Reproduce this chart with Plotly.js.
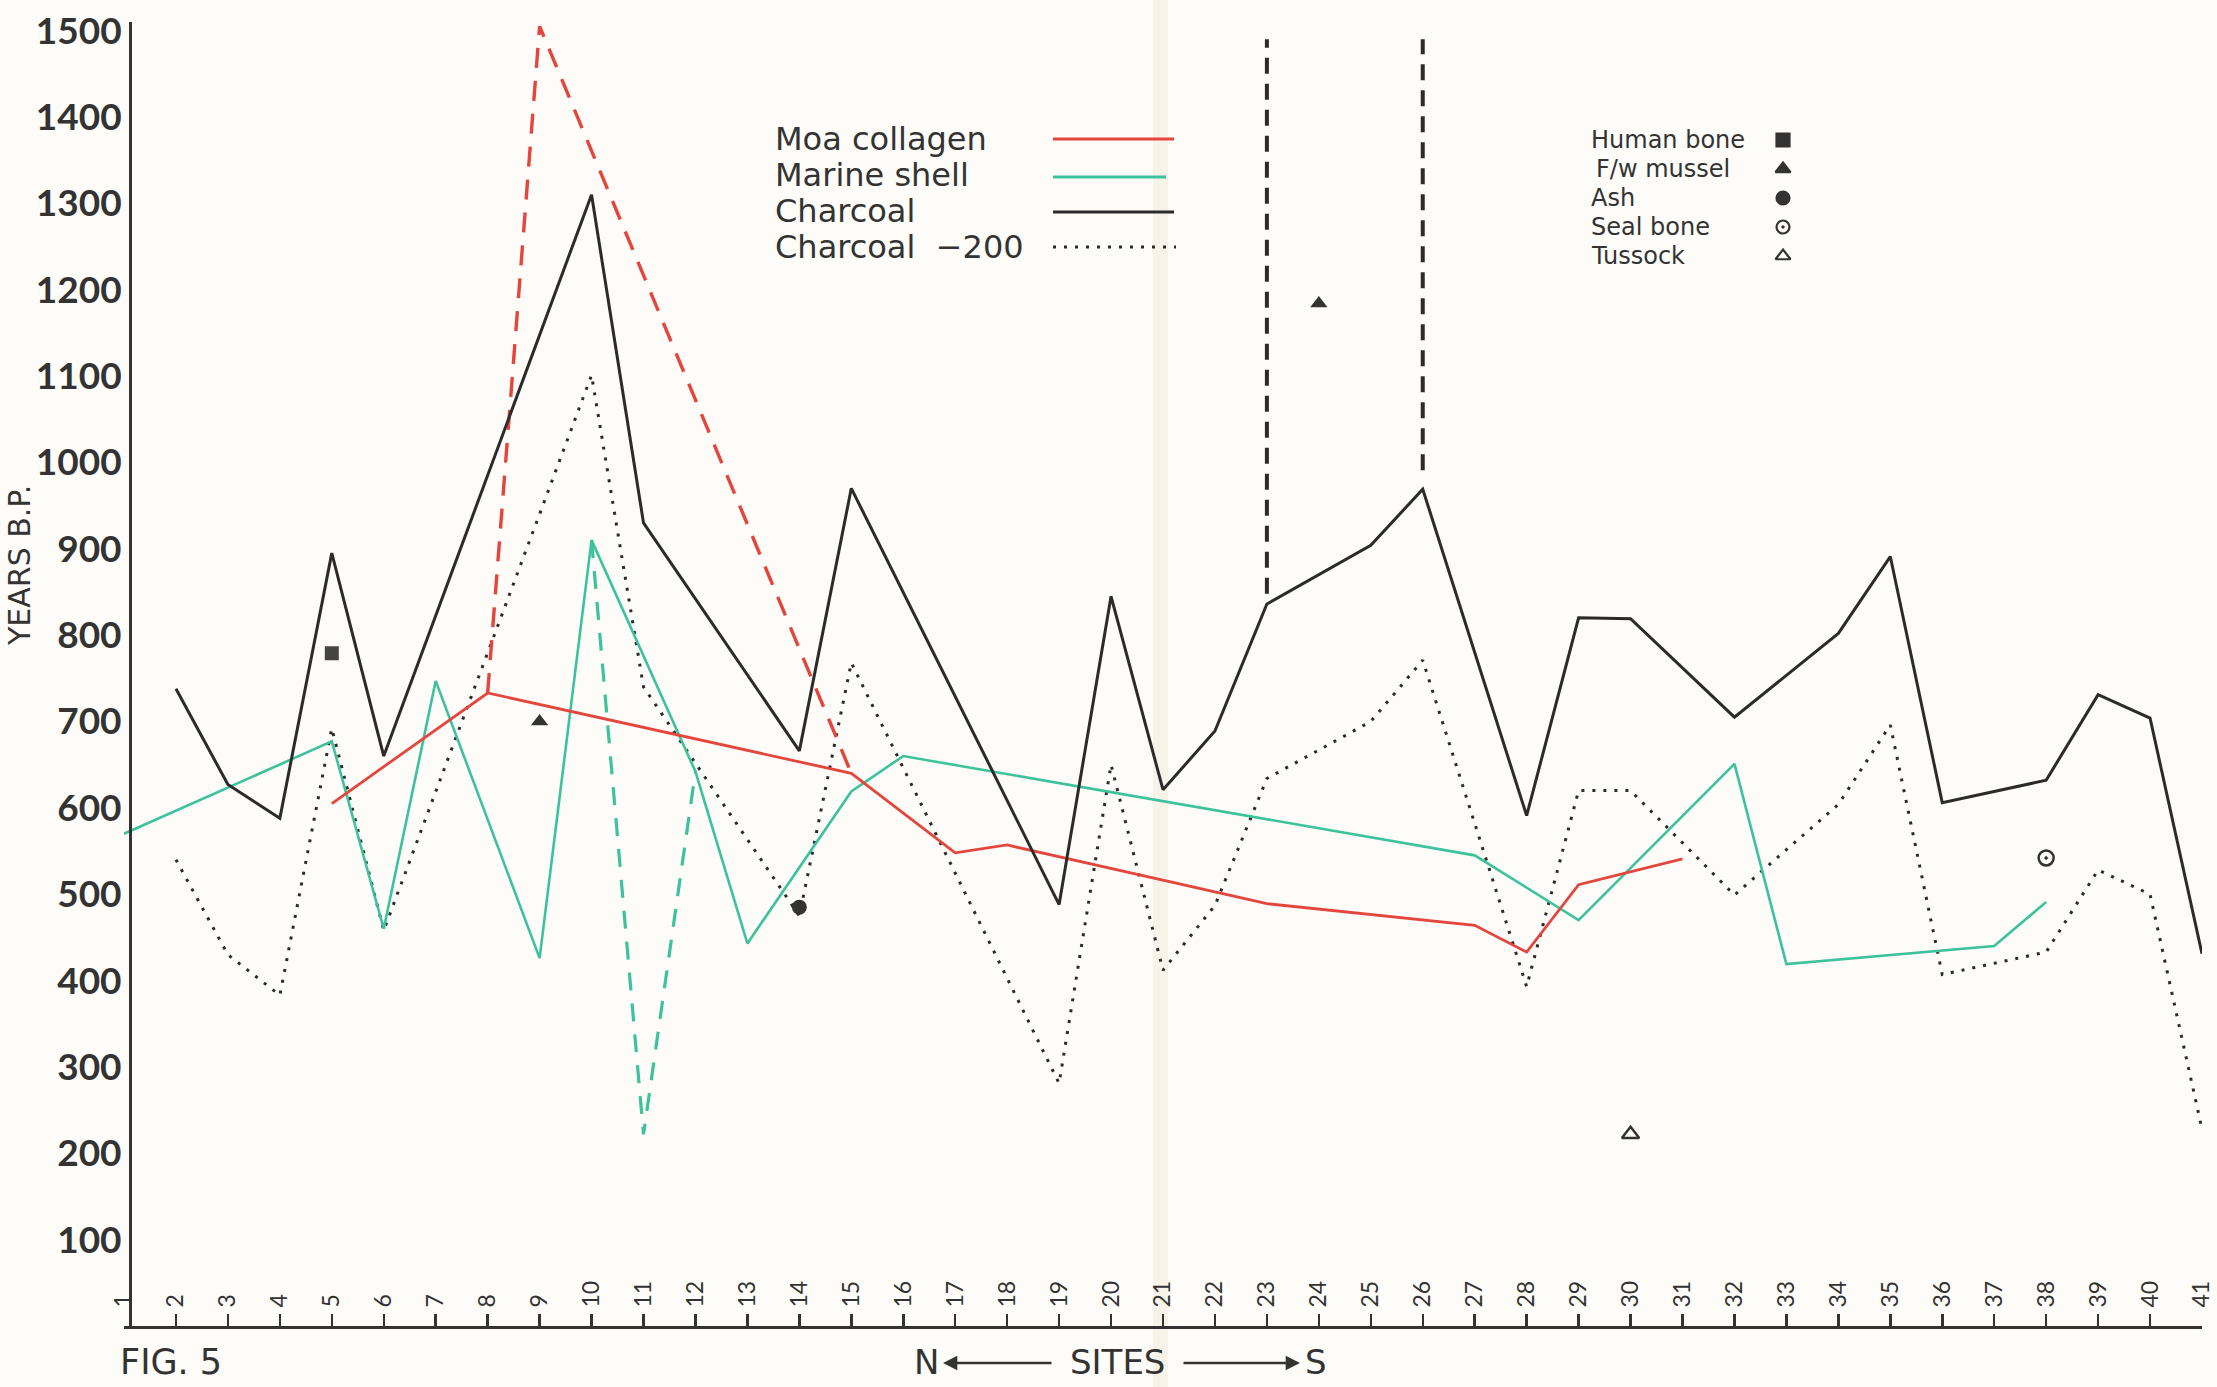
<!DOCTYPE html>
<html><head><meta charset="utf-8">
<script src="https://cdn.plot.ly/plotly-3.0.1.min.js"></script>
<style>html,body{margin:0;padding:0;background:#fdfcf8;} #chart{width:2217px;height:1387px;}</style>
</head><body><div id="chart"></div>
<script>
// ---------------- DATA (years B.P.) ----------------
const siteTicks = Array.from({length: 41}, (_, i) => i + 1);
const siteTickLabels = siteTicks.map(String);
const yTickVals = [100,200,300,400,500,600,700,800,900,1000,1100,1200,1300,1400,1500];

const charcoalSites = [2,3,4,5,6,10,11,14,15,19,20,21,22,23,25,26,28,29,30,32,34,35,36,38,39,40,41];
const charcoalBP    = [738,627,588,895,660,1310,930,666,970,488,845,621,689,836,904,969,591,820,819,705,802,891,606,632,731,704,431];
const charcoalMinus200BP = [540,430,383,692,458,1101,740,475,768,281,650,412,487,634,700,771,393,620,620,499,604,696,407,433,528,500,228];

const shellSites = [1,5,6,7,9,10,12,13,15,16,27,29,32,33,37,38];
const shellBP    = [570,677,460,747,426,910,642,443,619,660,545,470,651,419,440,491];
const shellAltSites = [10,11,12];
const shellAltBP    = [910,222,642];

const moaSites = [5,8,15,17,18,23,27,28,29,31];
const moaBP    = [605,733,640,548,557,489,464,433,511,541];
const moaAltSites = [8,9,15];
const moaAltBP    = [733,1505,640];

const rangeSites = [23,26];
const rangeLowBP  = [848,991];
const rangeHighBP = [1490,1490];

const humanBoneSites = [5];   const humanBoneBP = [779];
const musselSites = [9,24];   const musselBP = [700,1184];
const ashSites = [14];        const ashBP = [485];
const sealSites = [38];       const sealBP = [542];
const tussockSites = [30];    const tussockBP = [222];

const lineLegendNames = ["Moa collagen","Marine shell","Charcoal","Charcoal\u00A0\u00A0\u2212200"];
const markerLegendNames = ["Human bone","F/w mussel","Ash","Seal bone","Tussock"];

// ---------------- STYLE / GEOMETRY ----------------
const W = 2217, H = 1387, L = 124, R = 15, T = 22, B = 61;
const pw = W - L - R, ph = H - T - B;
const px = p => (p - L) / pw;
const py = q => (H - B - q) / ph;
const RED = '#e4453d', TEAL = '#3dc29c', BLACK = '#2b2b2b', BG = '#fdfcf8', INK = '#333';
const FONT = '"DejaVu Sans", sans-serif';
const TICKFONT = 'Lato, "DejaVu Sans", sans-serif';

const rangeX = [], rangeY = [];
rangeSites.forEach((s, i) => { rangeX.push(s, s, null); rangeY.push(rangeLowBP[i], rangeHighBP[i], null); });

const traces = [
  {x: charcoalSites, y: charcoalMinus200BP, mode: 'lines', line: {color: BLACK, width: 3, dash: '3px,8px'}},
  {x: shellSites, y: shellBP, mode: 'lines', line: {color: TEAL, width: 2.6}},
  {x: shellAltSites, y: shellAltBP, mode: 'lines', line: {color: TEAL, width: 3.2, dash: '18px,13px'}},
  {x: moaAltSites, y: moaAltBP, mode: 'lines', line: {color: RED, width: 3.4, dash: '20px,13px'}},
  {x: moaSites, y: moaBP, mode: 'lines', line: {color: RED, width: 2.8}},
  {x: charcoalSites, y: charcoalBP, mode: 'lines', line: {color: BLACK, width: 3}},
  {x: rangeX, y: rangeY, mode: 'lines', line: {color: BLACK, width: 4, dash: '16px,10px'}},
  {x: humanBoneSites, y: humanBoneBP, mode: 'markers', marker: {symbol: 'square', size: 14, color: '#444'}},
  {x: musselSites, y: musselBP, mode: 'markers', marker: {symbol: 'triangle-up', size: 15, color: INK}},
  {x: ashSites, y: ashBP, mode: 'markers', marker: {symbol: 'circle', size: 15, color: INK}},
  {x: sealSites, y: sealBP, mode: 'markers', marker: {symbol: 'circle-open-dot', size: 15, color: INK, line: {width: 2.5, color: INK}}},
  {x: tussockSites, y: tussockBP, mode: 'markers', marker: {symbol: 'triangle-up-open', size: 15, color: INK, line: {width: 2.5, color: INK}}}
];

// legend markers on an overlay axis in plot-fraction units
const legMarkerX = px(1783);
const legRowsPx = [140,169,198,227,256];
const legSymbols = ['square','triangle-up','circle','circle-open-dot','triangle-up-open'];
legSymbols.forEach((sym, i) => {
  traces.push({x: [legMarkerX], y: [py(legRowsPx[i])], xaxis: 'x2', yaxis: 'y2', mode: 'markers',
    marker: {symbol: sym, size: 13, color: INK, line: {width: 2.2, color: INK}}});
});

const annotations = [];
const lineRowsPx = [139,175,211,247];
lineLegendNames.forEach((t, i) => annotations.push({xref: 'paper', yref: 'paper', x: px(773), y: py(lineRowsPx[i]),
  xanchor: 'left', yanchor: 'middle', showarrow: false, text: t, font: {family: FONT, size: 32, color: INK}}));
markerLegendNames.forEach((t, i) => annotations.push({xref: 'paper', yref: 'paper', x: px(i === 1 ? 1594 : 1589), y: py(legRowsPx[i]),
  xanchor: 'left', yanchor: 'middle', showarrow: false, text: t, font: {family: FONT, size: 24, color: INK}}));
annotations.push({xref: 'paper', yref: 'paper', x: px(118), y: py(1362), xanchor: 'left', yanchor: 'middle', showarrow: false,
  text: 'FIG. 5', font: {family: FONT, size: 35, color: INK}});
// N <---- SITES ----> S
annotations.push({xref: 'paper', yref: 'paper', x: px(926), y: py(1362), xanchor: 'center', yanchor: 'middle', showarrow: false,
  text: 'N', font: {family: FONT, size: 34, color: INK}});
annotations.push({xref: 'paper', yref: 'paper', x: px(1117), y: py(1362), xanchor: 'center', yanchor: 'middle', showarrow: false,
  text: 'SITES', font: {family: FONT, size: 34, color: INK}});
annotations.push({xref: 'paper', yref: 'paper', x: px(1316), y: py(1362), xanchor: 'center', yanchor: 'middle', showarrow: false,
  text: 'S', font: {family: FONT, size: 34, color: INK}});
annotations.push({xref: 'paper', yref: 'paper', x: px(943), y: py(1363), ax: 110, ay: 0, text: '', showarrow: true,
  arrowhead: 2, arrowsize: 1.1, arrowwidth: 2.6, arrowcolor: INK});
annotations.push({xref: 'paper', yref: 'paper', x: px(1300), y: py(1363), ax: -118, ay: 0, text: '', showarrow: true,
  arrowhead: 2, arrowsize: 1.1, arrowwidth: 2.6, arrowcolor: INK});
annotations.push({xref: 'paper', yref: 'paper', x: px(19), y: py(566), xanchor: 'center', yanchor: 'middle', showarrow: false,
  textangle: -90, text: 'YEARS B.P.', font: {family: FONT, size: 30, color: INK}});

const shapes = [
  {type: 'rect', xref: 'paper', yref: 'paper', x0: px(1153), x1: px(1168), y0: py(H + 5), y1: py(-5), line: {width: 0}, fillcolor: 'rgba(225,210,175,0.2)', layer: 'below'}
];
const lineLegStyles = [
  {color: RED, width: 3, dash: 'solid', x1: 1174},
  {color: TEAL, width: 3, dash: 'solid', x1: 1166},
  {color: BLACK, width: 3, dash: 'solid', x1: 1174},
  {color: BLACK, width: 3, dash: '3px,8px', x1: 1176}
];
const lineLegY = [139,177,212,247];
lineLegStyles.forEach((s, i) => shapes.push({type: 'line', xref: 'paper', yref: 'paper', x0: px(1053), x1: px(s.x1),
  y0: py(lineLegY[i]), y1: py(lineLegY[i]), line: {color: s.color, width: s.width, dash: s.dash}}));

const layout = {
  width: W, height: H,
  margin: {l: L, r: R, t: T, b: B, pad: 0},
  paper_bgcolor: BG, plot_bgcolor: BG,
  showlegend: false,
  xaxis: {range: [1, 41], tickvals: siteTicks, ticktext: siteTickLabels, tickangle: -90,
    ticks: 'inside', ticklen: 12, tickwidth: 2.5, tickcolor: INK, ticklabelposition: 'inside', ticklabeloverflow: 'allow',
    showline: true, linewidth: 3, linecolor: INK, showgrid: false, zeroline: false,
    tickfont: {family: TICKFONT, size: 23, color: INK}},
  yaxis: {range: [0, 1510], tickvals: yTickVals, ticks: '', showline: true, linewidth: 3, linecolor: INK,
    anchor: 'free', position: 6 / pw,
    showgrid: false, zeroline: false, ticklabelstandoff: 0,
    tickfont: {family: TICKFONT, size: 37, color: INK, weight: 700}},
  xaxis2: {range: [0, 1], overlaying: 'x', visible: false},
  yaxis2: {range: [0, 1], overlaying: 'y', visible: false},
  annotations: annotations,
  shapes: shapes
};

Plotly.newPlot('chart', traces, layout, {displayModeBar: false, staticPlot: true});
</script></body></html>
